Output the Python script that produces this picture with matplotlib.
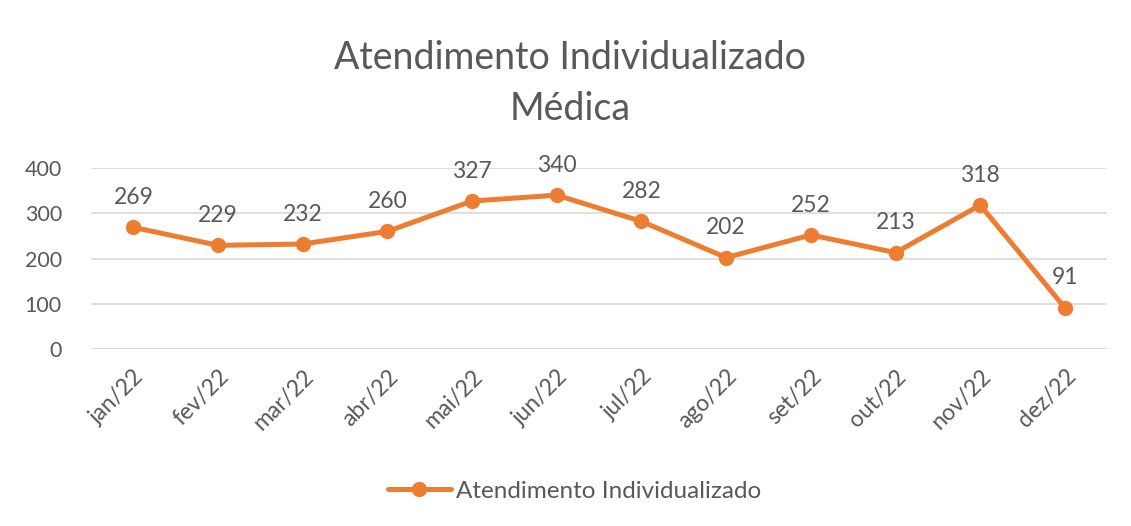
import matplotlib
matplotlib.use('Agg')
import matplotlib.pyplot as plt

months = ['jan/22', 'fev/22', 'mar/22', 'abr/22', 'mai/22', 'jun/22',
          'jul/22', 'ago/22', 'set/22', 'out/22', 'nov/22', 'dez/22']
atend = [269, 229, 232, 260, 327, 340, 282, 202, 252, 213, 318, 91]
yt = [0, 100, 200, 300, 400]

orange = '#ED7D31'
gray = '#595959'

plt.rcParams['font.family'] = ['Lato', 'DejaVu Sans']

fig = plt.figure(figsize=(11.31, 5.26), dpi=100)
ax = fig.add_axes([0.0805, 0.3365, 0.8985, 0.3441])

x = list(range(len(months)))
ax.plot(x, atend, color=orange, lw=3.6, marker='o', ms=10,
        label='Atendimento Individualizado', solid_capstyle='round')
for i, v in zip(x, atend):
  ax.annotate(str(v), (i, v), xytext=(0, 14), textcoords='offset points',
              ha='center', va='bottom', fontsize=16.5, color=gray)

ax.set_xlim(-0.5, len(months) - 0.5)
ax.set_ylim(yt[0], yt[-1])
ax.set_yticks(yt)
ax.set_xticks(x)
ax.set_xticklabels(months, rotation=45, ha='right', rotation_mode='anchor')
ax.tick_params(axis='x', length=0, labelsize=16.5, labelcolor=gray, pad=12)
ax.tick_params(axis='y', length=0, labelsize=15.5, labelcolor=gray, pad=21)
ax.grid(axis='y', color='#D9D9D9', lw=1.2)
ax.set_axisbelow(True)
for s in ax.spines.values():
  s.set_visible(False)

fig.text(0.504, 0.890, 'Atendimento Individualizado', ha='center', va='center',
         fontsize=27, color=gray)
fig.text(0.504, 0.792, 'Médica', ha='center', va='center',
         fontsize=27, color=gray)

fig.legend(loc='center', bbox_to_anchor=(0.508, 0.066), frameon=False,
           fontsize=17.5, labelcolor=gray, handlelength=2.6, handletextpad=0.2,
           markerscale=1)

fig.savefig('out.png')
